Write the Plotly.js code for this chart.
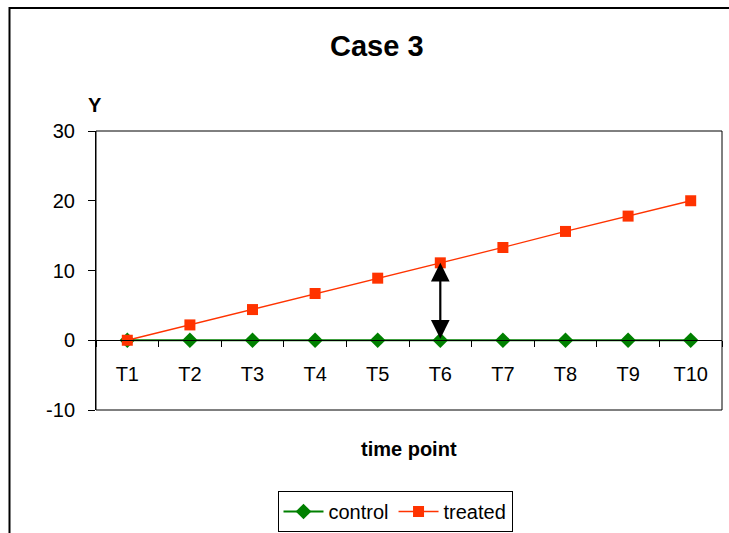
<!DOCTYPE html>
<html>
<head>
<meta charset="utf-8">
<script src="https://cdn.plot.ly/plotly-3.0.1.min.js"></script>
<style>html,body{margin:0;padding:0;background:#fff;}#chart{width:729px;height:533px;}</style>
</head>
<body>
<div id="chart"></div>
<script>
const categories = ["T1","T2","T3","T4","T5","T6","T7","T8","T9","T10"];
const control = [0,0,0,0,0,0,0,0,0,0];
const treated = [0,2.2,4.4,6.7,8.9,11.1,13.3,15.6,17.8,20];
const yTicks = [-10,0,10,20,30];
const arrowIndex = 5;

const W = 729, H = 533;
const L = 96, R = 7, T = 131, B = 123;
const pw = W - L - R, ph = H - T - B;
const px = x => (x - L) / pw;
const py = y => (H - B - y) / ph;

const arial = 'Arial, "Liberation Sans", sans-serif';

const traces = [
  {x: categories, y: control, name: 'control', type: 'scatter', mode: 'lines+markers',
   line: {color: '#008000', width: 2}, marker: {symbol: 'diamond', size: 12, color: '#008000'}},
  {x: categories, y: treated, name: 'treated', type: 'scatter', mode: 'lines+markers',
   line: {color: '#FF3300', width: 1.3}, marker: {symbol: 'square', size: 11, color: '#FF3300'}}
];

const layout = {
  width: W, height: H,
  margin: {l: L, r: R, t: T, b: B, autoexpand: false},
  paper_bgcolor: '#ffffff', plot_bgcolor: '#ffffff',
  showlegend: true,
  xaxis: {type: 'category', categoryorder: 'array', categoryarray: categories,
    range: [-0.5, categories.length - 0.5], anchor: 'free', position: 0.25,
    showline: true, linecolor: '#000', linewidth: 1, ticks: 'outside', tickson: 'boundaries',
    ticklen: 6, tickcolor: '#000', showgrid: false, zeroline: false, ticklabelstandoff: 16,
    tickfont: {family: arial, size: 20, color: '#000'}, fixedrange: true},
  yaxis: {range: [-10, 30], tickvals: yTicks, ticktext: yTicks.map(String),
    showline: true, linecolor: '#000', linewidth: 1, ticks: 'outside', ticklen: 7, tickcolor: '#000',
    showgrid: false, zeroline: false, ticklabelstandoff: 9,
    tickfont: {family: arial, size: 20, color: '#000'}, fixedrange: true},
  legend: {orientation: 'h', x: px(395), xanchor: 'center', y: py(491), yanchor: 'top',
    bordercolor: '#000', borderwidth: 1, font: {family: arial, size: 20, color: '#000'},
    itemclick: false, tracegroupgap: 0, itemwidth: 40},
  shapes: [
    {type: 'rect', xref: 'paper', yref: 'paper', x0: 0, x1: 1, y0: 0, y1: 1,
     line: {color: '#000', width: 1}},
    {type: 'rect', xref: 'paper', yref: 'paper', x0: px(9.5), x1: px(760), y0: py(560), y1: py(8),
     line: {color: '#000', width: 2}, layer: 'below'}
  ],
  annotations: [
    {text: '<b>Case 3</b>', xref: 'paper', yref: 'paper', x: px(377), y: py(46),
     xanchor: 'center', yanchor: 'middle',
     showarrow: false, font: {family: arial, size: 29, color: '#000'}},
    {text: '<b>Y</b>', xref: 'paper', yref: 'paper', x: px(95), y: py(105),
     xanchor: 'center', yanchor: 'middle',
     showarrow: false, font: {family: arial, size: 20, color: '#000'}},
    {text: '<b>time point</b>', xref: 'paper', yref: 'paper', x: px(409), y: py(449),
     xanchor: 'center', yanchor: 'middle',
     showarrow: false, font: {family: arial, size: 20, color: '#000'}},
    {text: '', x: categories[arrowIndex], y: treated[arrowIndex], xref: 'x', yref: 'y',
     ax: categories[arrowIndex], ay: control[arrowIndex], axref: 'x', ayref: 'y',
     showarrow: true, arrowside: 'end+start', arrowhead: 2, arrowsize: 1.7, arrowwidth: 2.2,
     arrowcolor: '#000', standoff: 0, startstandoff: 0}
  ]
};

Plotly.newPlot('chart', traces, layout, {displayModeBar: false, staticPlot: true});
</script>
</body>
</html>
